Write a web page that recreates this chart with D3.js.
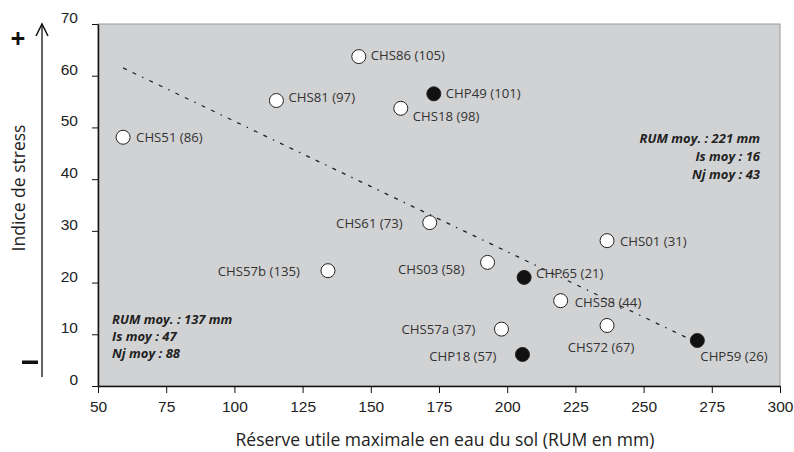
<!DOCTYPE html>
<html>
<head>
<meta charset="utf-8">
<script src="https://cdn.jsdelivr.net/npm/d3@7"></script>
<style>
  body { margin: 0; background: #fff; }
  svg { display: block; font-family: "Open Sans", sans-serif; }
  .axis text { font-size: 15.5px; fill: #222; }
  .axis path, .axis line { stroke: #111; }
  .label { font-size: 13.2px; fill: #333; }
  .note { font-size: 13px; font-weight: bold; font-style: italic; fill: #222; }
</style>
</head>
<body>
<div id="chart"></div>
<script>
// Station data
var sites = ["CHS51", "CHS81", "CHS86", "CHP49", "CHS18", "CHS61", "CHS57b", "CHS01",
  "CHS03", "CHP65", "CHS58", "CHS57a", "CHS72", "CHP59", "CHP18"];
var counts = [86, 97, 105, 101, 98, 73, 135, 31, 58, 21, 44, 37, 67, 26, 57];
var rum = [59.2, 115.4, 145.6, 173.1, 161, 171.6, 134.3, 236.6, 192.8, 206.2, 219.6, 197.9, 236.6, 269.7, 205.6];
var stress = [48.1, 55.2, 63.7, 56.5, 53.7, 31.6, 22.3, 28.1, 23.9, 21.0, 16.5, 11.0, 11.7, 8.8, 6.1];
var filled = [false, false, false, true, false, false, false, false, false, true, false, false, false, true, true];

// Trend line end points [rum, stress]
var trend = [[59.2, 61.5], [268, 8.8]];

var xTicks = [50, 75, 100, 125, 150, 175, 200, 225, 250, 275, 300];
var yTicks = [0, 10, 20, 30, 40, 50, 60, 70];

var notesLeft = ["RUM moy. : 137 mm", "Is moy : 47", "Nj moy : 88"];
var notesRight = ["RUM moy. : 221 mm", "Is moy : 16", "Nj moy : 43"];

// label placement: [anchor, dx, dy] relative to point
var labelPos = {
  CHS51: ["start", 13, 5], CHS81: ["start", 12, 1], CHS86: ["start", 12, 3],
  CHP49: ["start", 12, 4], CHS18: ["start", 12, 13], CHS61: ["end", -27, 5],
  CHS57b: ["end", -28, 5], CHS01: ["start", 13, 5], CHS03: ["end", -23, 12],
  CHP65: ["start", 12, 1], CHS58: ["start", 14, 6], CHS57a: ["end", -26, 5],
  CHS72: ["middle", -6, 27], CHP59: ["start", 3, 21], CHP18: ["end", -26, 7]
};

var width = 794, height = 452;
var margins = { top: 24, right: 14, bottom: 66, left: 98 };
var chartWidth = width - margins.left - margins.right;
var chartHeight = height - margins.top - margins.bottom;

var svg = d3.select("#chart").append("svg")
  .attr("width", width)
  .attr("height", height);

var chart = svg.append("g")
  .attr("transform", `translate(${margins.left},${margins.top})`);

var xScale = d3.scaleLinear().domain([50, 300]).range([0, chartWidth]);
var yScale = d3.scaleLinear().domain([0, 70]).range([chartHeight, 0]);

// plot background
chart.append("rect")
  .attr("width", chartWidth)
  .attr("height", chartHeight)
  .attr("fill", "#d1d2d4")
  .attr("stroke", "#9a9a9a")
  .attr("stroke-width", 1);

// axes
chart.append("g")
  .attr("class", "x axis")
  .attr("transform", `translate(0,${chartHeight})`)
  .call(d3.axisBottom(xScale).tickValues(xTicks).tickSize(7).tickSizeOuter(0).tickPadding(8));

chart.append("g")
  .attr("class", "y axis")
  .call(d3.axisLeft(yScale).tickValues(yTicks).tickSize(6).tickSizeOuter(0).tickPadding(14));

chart.selectAll(".axis path").attr("stroke-width", 1.5);
chart.selectAll(".y.axis text").attr("dy", "-0.1em");

// trend line
var line = d3.line().x(d => xScale(d[0])).y(d => yScale(d[1]));
chart.append("path")
  .attr("d", line(trend))
  .attr("fill", "none")
  .attr("stroke", "#222")
  .attr("stroke-width", 1.3)
  .attr("stroke-dasharray", "4,6.5,4,6.5,1.5,6.5");

// points
var points = sites.map((s, i) => ({
  name: s, count: counts[i], x: rum[i], y: stress[i], filled: filled[i]
}));

chart.append("g")
  .selectAll("circle")
  .data(points)
  .enter()
  .append("circle")
  .attr("cx", d => xScale(d.x))
  .attr("cy", d => yScale(d.y))
  .attr("r", 7)
  .attr("fill", d => d.filled ? "#111" : "#fff")
  .attr("stroke", "#222")
  .attr("stroke-width", 1);

chart.append("g")
  .selectAll("text")
  .data(points)
  .enter()
  .append("text")
  .attr("class", "label")
  .attr("text-anchor", d => labelPos[d.name][0])
  .attr("x", d => xScale(d.x) + labelPos[d.name][1])
  .attr("y", d => yScale(d.y) + labelPos[d.name][2])
  .text(d => `${d.name} (${d.count})`);

// annotations
chart.append("g")
  .selectAll("text")
  .data(notesLeft)
  .enter()
  .append("text")
  .attr("class", "note")
  .attr("x", 14)
  .attr("y", (d, i) => 300 + i * 17)
  .text(d => d);

chart.append("g")
  .selectAll("text")
  .data(notesRight)
  .enter()
  .append("text")
  .attr("class", "note")
  .attr("text-anchor", "end")
  .attr("x", chartWidth - 20)
  .attr("y", (d, i) => 119 + i * 18)
  .text(d => d);

// axis titles
svg.append("text")
  .attr("x", 445)
  .attr("y", 446)
  .attr("text-anchor", "middle")
  .attr("font-size", 17.5)
  .attr("fill", "#222")
  .text("Réserve utile maximale en eau du sol (RUM en mm)");

svg.append("text")
  .attr("transform", "translate(25,188) rotate(-90)")
  .attr("text-anchor", "middle")
  .attr("font-size", 17.5)
  .attr("fill", "#222")
  .text("Indice de stress");

// stress arrow
svg.append("line")
  .attr("x1", 42).attr("x2", 42)
  .attr("y1", 377).attr("y2", 24)
  .attr("stroke", "#111")
  .attr("stroke-width", 1.3);

svg.append("path")
  .attr("d", "M36,36 L42,24 L48,36")
  .attr("fill", "none")
  .attr("stroke", "#111")
  .attr("stroke-width", 1.5);

svg.append("text")
  .attr("x", 18).attr("y", 48)
  .attr("text-anchor", "middle")
  .attr("font-size", 26)
  .attr("font-weight", "bold")
  .attr("fill", "#111")
  .text("+");

svg.append("rect")
  .attr("x", 22).attr("y", 360.5)
  .attr("width", 16).attr("height", 3.5)
  .attr("fill", "#111");
</script>
</body>
</html>
